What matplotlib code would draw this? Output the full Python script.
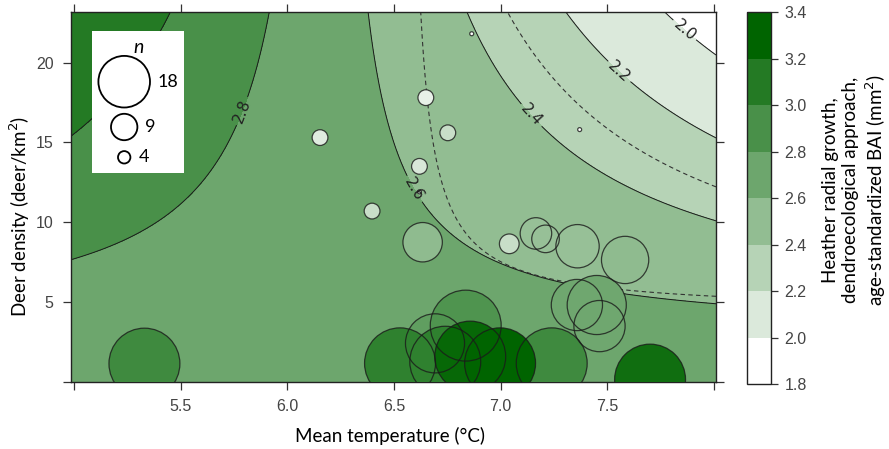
import matplotlib
matplotlib.use('Agg')
import matplotlib.pyplot as plt
import numpy as np
from matplotlib.colors import LinearSegmentedColormap, Normalize

# model surface BAI = a + d*(T - T0)*(D - D0)  -> [a, d, T0, D0]
fit_estimate = [2.677, -0.0213, 6.20, 2.90]
fit_lower = [2.430, -0.0213, 6.55, 4.40]
fit_upper = [2.759, -0.0213, 6.20, 2.90]

levels = [1.8, 2.0, 2.2, 2.4, 2.6, 2.8, 3.0, 3.2, 3.4]
band_colors = ['#ffffff', '#dbe9db', '#b6d3b6', '#92bd92', '#6da66d', '#499049', '#247a24', '#006400']
label_levels = [2.0, 2.2, 2.4, 2.6, 2.8]
label_spots = [(7.86, 22.0), (7.56, 19.5), (7.16, 16.9), (6.61, 12.2), (5.78, 17.0)]

# sites (bubbles)
site_temp = [5.33, 6.153, 6.397, 6.649, 6.752, 6.619, 6.864, 7.37, 6.619, 6.634, 7.04, 7.165, 7.21,
             7.36, 7.583, 7.357, 7.45, 7.463, 6.836, 6.692, 6.857, 6.74, 6.997, 6.528, 7.239, 7.70]
site_deer = [1.15, 15.3, 10.7, 17.8, 15.6, 13.5, 21.8, 15.8, 11.9, 8.75, 8.65, 9.3, 8.96,
             8.5, 7.64, 4.82, 4.82, 3.5, 3.53, 2.42, 1.59, 1.27, 1.17, 1.17, 1.17, 0.15]
site_n = [18, 4, 4, 4, 4, 4, 1, 1, 1, 10, 5, 8, 7, 11, 12, 13, 15, 13, 18, 15, 18, 18, 18, 18, 18, 18]
site_bai = [3.0, 2.0, 2.15, 1.95, 2.15, 2.05, 1.8, 1.8, 2.0, 2.5, 2.15, 2.45, 2.45,
            2.45, 2.5, 2.7, 2.7, 2.7, 2.9, 2.8, 3.35, 3.1, 3.4, 3.1, 3.0, 3.3]

legend_n = [18, 9, 4]

xticks = [5.0, 5.5, 6.0, 6.5, 7.0, 7.5, 8.0]
xticklabels = ['', '5.5', '6.0', '6.5', '7.0', '7.5', '']
yticks = [0, 5, 10, 15, 20]
yticklabels = ['', '5', '10', '15', '20']

xlim = (4.986, 8.009)
ylim = (0, 23.16)

label_font = ['Lato', 'DejaVu Sans']
tick_font = ['Liberation Sans Narrow', 'Liberation Sans', 'DejaVu Sans']

fig = plt.figure(figsize=(8.89, 4.49), dpi=100)
ax = fig.add_axes([0.0799, 0.1492, 0.7255, 0.824])
cax = fig.add_axes([0.8406, 0.1448, 0.0263, 0.8278])

T = np.linspace(xlim[0], xlim[1], 400)
D = np.linspace(ylim[0], ylim[1], 400)
TT, DD = np.meshgrid(T, D)


def surface(p):
    a, d, t0, d0 = p
    return a + d * (TT - t0) * (DD - d0)


Z = surface(fit_estimate)
cf = ax.contourf(TT, DD, Z, levels=levels, colors=band_colors)
cs = ax.contour(TT, DD, Z, levels=levels[1:-1], colors='#1a1a1a', linewidths=0.7)
ax.clabel(cs, label_levels, manual=label_spots, fmt='%.1f', fontsize=11, colors='#222222',
          inline=True, inline_spacing=3)
# confidence bounds, upper-right branch only
for p in [fit_lower, fit_upper]:
    zb = np.ma.masked_where((TT < p[2]) | (DD < p[3]), surface(p))
    ax.contour(TT, DD, zb, levels=[2.4], colors='#333333', linewidths=0.8,
               linestyles=[(0, (4, 3))])

# bubbles: radius in pixels grows with n
px_per_n = 1.97
bub_cmap = LinearSegmentedColormap.from_list('wg', ['#ffffff', '#006400'])
order = np.argsort(site_bai, kind='stable')
st = np.array(site_temp)[order]
sd = np.array(site_deer)[order]
sn = np.array(site_n)[order]
sb = np.array(site_bai)[order]
sizes = (2 * px_per_n * sn * 72 / 100) ** 2
ax.scatter(st, sd, s=sizes, c=sb, cmap=bub_cmap, norm=Normalize(1.8, 3.4), linewidths=0, zorder=3)
ax.scatter(st, sd, s=sizes, facecolors='none', edgecolors='#1a1a1a', linewidths=0.9, alpha=0.8, zorder=4)

ax.set_xlim(xlim)
ax.set_ylim(ylim)
ax.set_xticks(xticks)
ax.set_xticklabels(xticklabels, family=tick_font, fontsize=11.5, color='#444444')
ax.set_yticks(yticks)
ax.set_yticklabels(yticklabels, family=tick_font, fontsize=11.5, color='#444444')
ax.tick_params(direction='out', length=5.5, width=0.9, color='#333333', pad=7,
               top=True, right=True, labeltop=False, labelright=False)
for sp in ax.spines.values():
    sp.set_color('#222222')
    sp.set_linewidth(1.0)

ax.set_xlabel('Mean temperature (°C)', family=label_font, fontsize=13.5, va='center')
ax.xaxis.set_label_coords(0.495, -0.146)
ax.set_ylabel('Deer density (deer/km$^2$)', family=label_font, fontsize=13.5, va='center')
ax.yaxis.set_label_coords(-0.079, 0.449)

cb = fig.colorbar(cf, cax=cax, ticks=levels)
cb.ax.set_yticklabels(['%.1f' % v for v in levels], family=tick_font, fontsize=11.5, color='#444444')
cb.ax.tick_params(direction='out', length=5, width=0.9, color='#333333', pad=5)
cb.outline.set_linewidth(1.0)
cb.outline.set_edgecolor('#222222')
fig.text(855 / 889, 1 - 190 / 449,
         'Heather radial growth,\ndendroecological approach,\nage-standardized BAI (mm$^2$)',
         rotation=90, ha='center', va='center', multialignment='center',
         family=label_font, fontsize=13.5, linespacing=1.25)

# size legend box
lax = fig.add_axes([91.7 / 889, 1 - 173 / 449, 92.3 / 889, 142 / 449])
lax.set_xlim(0, 92.3)
lax.set_ylim(142, 0)
lax.set_facecolor('white')
lax.set_xticks([])
lax.set_yticks([])
for sp in lax.spines.values():
    sp.set_visible(False)
leg_r = [1.4 * n + 0.6 for n in legend_n]
leg_y = [50.7, 96, 126.3]
lax.scatter([32.5] * 3, leg_y, s=[(2 * r * 0.72) ** 2 for r in leg_r], facecolors='white',
            edgecolors='black', linewidths=1.3)
for n, r, y in zip(legend_n, leg_r, leg_y):
    lax.text(32.5 + r + 8, y, str(n), ha='left', va='center', family=label_font, fontsize=13)
lax.text(47.3, 16.7, 'n', style='italic', ha='center', va='center', family=label_font, fontsize=14)

fig.savefig('out.png', dpi=100)
